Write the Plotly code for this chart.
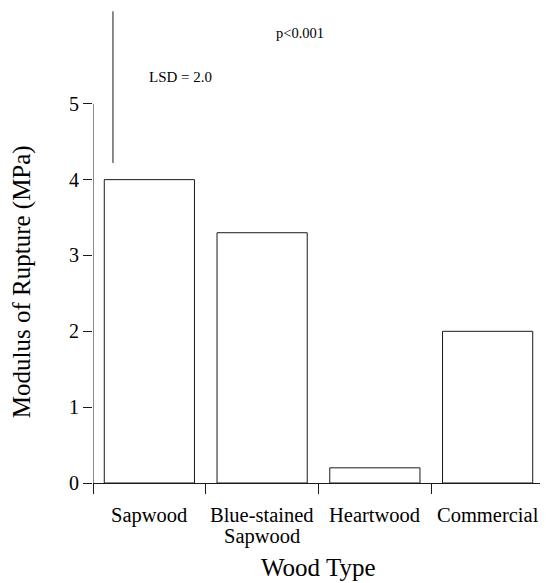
import plotly.graph_objects as go

categories = ["Sapwood", "Blue-stained<br>Sapwood", "Heartwood", "Commercial"]
mor_values = [4.0, 3.3, 0.2, 2.0]
y_tick_vals = [0, 1, 2, 3, 4, 5]
lsd_value = 2.0
lsd_base = 4.22

FONT = "Liberation Serif, Times New Roman, serif"
INK = "#1a1a1a"

x_pos = list(range(len(categories)))

fig = go.Figure()
fig.add_trace(go.Bar(
    x=x_pos, y=mor_values, width=0.8,
    marker=dict(color="white", line=dict(color=INK, width=1)),
    showlegend=False, hoverinfo="skip",
))
# LSD bar
fig.add_trace(go.Scatter(
    x=[-0.323, -0.323], y=[lsd_base, lsd_base + lsd_value],
    mode="lines", line=dict(color=INK, width=1),
    showlegend=False, hoverinfo="skip", cliponaxis=False,
))

fig.update_layout(
    width=540, height=575,
    margin=dict(l=85, r=4, t=1, b=100),
    plot_bgcolor="white", paper_bgcolor="white",
    font=dict(family=FONT, color="black"),
    bargap=0.2,
)
fig.update_xaxes(
    range=[-0.5, 3.5], automargin=False,
    tickmode="array", tickvals=x_pos, ticktext=[""] * len(x_pos),
    ticks="", showticklabels=False,
    minor=dict(tickmode="array", tickvals=[-0.5, 0.5, 1.5, 2.5, 3.5],
               ticks="outside", ticklen=10, tickcolor=INK, tickwidth=1, showgrid=False),
    showline=True, linecolor=INK, linewidth=1,
    showgrid=False, zeroline=False,
)
fig.update_yaxes(
    range=[0, 6.25], automargin=False,
    tickmode="array", tickvals=y_tick_vals, ticktext=[str(v) for v in y_tick_vals],
    ticks="outside", ticklen=9, tickcolor=INK, tickwidth=1,
    tickfont=dict(size=20, family=FONT, color="black"),
    showline=False, showgrid=False, zeroline=False,
)
# y axis line only from 0 to 5
fig.add_shape(type="line", xref="x", yref="y", x0=-0.5, x1=-0.5, y0=0, y1=max(y_tick_vals),
              line=dict(color=INK, width=1))

# category labels (tight line spacing as in the original)
for xi, cat in zip(x_pos, categories):
    for k, line in enumerate(cat.split("<br>")):
        fig.add_annotation(text=line, xref="x", yref="paper", x=xi, y=0,
                           xanchor="center", yanchor="middle", yshift=-32 - 21 * k,
                           showarrow=False, font=dict(size=20.5, family=FONT, color="black"))

fig.add_annotation(text="Modulus of Rupture (MPa)", xref="paper", yref="paper",
                   x=-0.157, y=0.424, xanchor="center", yanchor="middle",
                   textangle=-90, showarrow=False, font=dict(size=25, family=FONT, color="black"))
fig.add_annotation(text="Wood Type", xref="paper", yref="paper",
                   x=0.5, y=-0.179, xanchor="center", yanchor="middle",
                   showarrow=False, font=dict(size=25, family=FONT, color="black"))
fig.add_annotation(text=f"LSD = {lsd_value:.1f}", xref="x", yref="y",
                   x=0.272, y=5.35, xanchor="center", yanchor="middle",
                   showarrow=False, font=dict(size=15, family=FONT, color="black"))
fig.add_annotation(text="p<0.001", xref="x", yref="y",
                   x=1.336, y=5.93, xanchor="center", yanchor="middle",
                   showarrow=False, font=dict(size=14.5, family=FONT, color="black"))

fig.write_html("out.html")
